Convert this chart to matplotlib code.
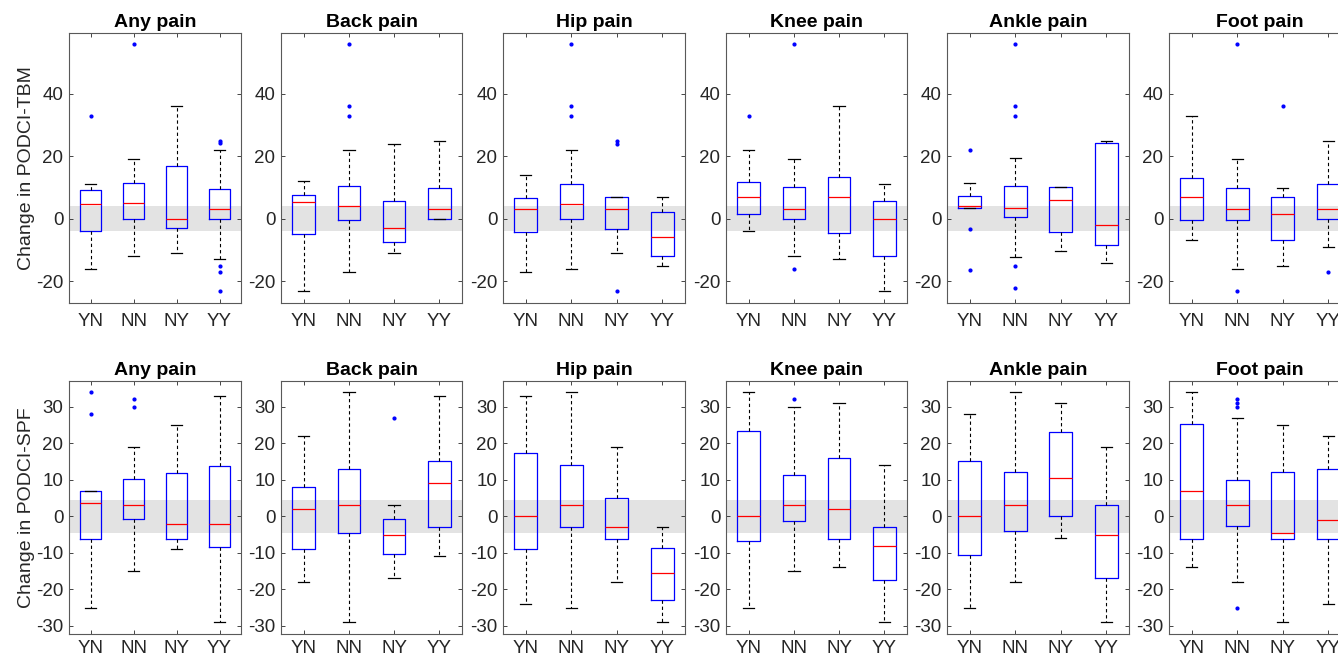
import numpy as np
import matplotlib.pyplot as plt

plt.rcParams['font.family'] = ['Liberation Sans', 'DejaVu Sans']
plt.rcParams['axes.unicode_minus'] = False

groups = ['YN', 'NN', 'NY', 'YY']
pains = ['Any pain', 'Back pain', 'Hip pain', 'Knee pain', 'Ankle pain', 'Foot pain']

# PODCI-TBM (top row), one row of 4 groups per pain site
tbm_low = [[-16, -12, -11, -13], [-23, -17, -11, 0], [-17, -16, -11, -15],
           [-4, -12, -13, -23], [3.3, -12.3, -10.3, -14.3], [-6.8, -16, -15, -9]]
tbm_q1 = [[-3.9, 0, -3, 0], [-5, -0.4, -7.4, 0], [-4.2, 0, -3.4, -11.9],
          [1.6, 0, -4.6, -11.9], [3.3, 0.4, -4.4, -8.3], [-0.4, -0.4, -6.8, 0]]
tbm_med = [[4.6, 5.1, 0, 3.1], [5.5, 4, -2.9, 3.1], [3.1, 4.6, 3.1, -5.9],
           [7.1, 3.1, 7.1, 0], [4.2, 3.4, 5.9, -2], [7, 3.1, 1.6, 3.1]]
tbm_q3 = [[9.1, 11.6, 16.8, 9.4], [7.6, 10.5, 5.8, 10], [6.5, 11, 7, 2],
          [11.7, 10.2, 13.5, 5.6], [7.4, 10.4, 10.3, 24.3], [13.2, 10, 7, 11]]
tbm_high = [[11, 19, 36, 22], [12, 22, 24, 25], [14, 22, 7, 7],
            [22, 19, 36, 11], [11.3, 19.3, 10.3, 25], [33, 19, 10, 25]]
tbm_out = [[[33], [56], [], [25, 24.3, -15, -17, -23]],
           [[], [56, 36, 33], [], []],
           [[], [56, 36, 33], [25, 24, -23], []],
           [[33], [56, -16], [], []],
           [[22, -3.4, -16.4], [56, 36, 33, -15.3, -22.2], [], []],
           [[], [56, -23], [36], [-17]]]

# PODCI-SPF (bottom row)
spf_low = [[-25, -15, -9, -29], [-18, -29, -17, -11], [-24, -25, -18, -29],
           [-25, -15, -14, -29], [-25, -18, -6, -29], [-14, -18, -29, -24]]
spf_q1 = [[-6.1, -0.8, -6.1, -8.3], [-9, -4.5, -10.2, -3], [-9, -3, -6.1, -23],
          [-6.7, -1.3, -6.1, -17.5], [-10.6, -4, 0, -17], [-6.3, -2.6, -6.1, -6.1]]
spf_med = [[3.5, 3, -2, -2], [2, 3, -5, 9], [0, 3, -3, -15.5],
           [0, 3, 2, -8], [0, 3, 10.5, -5], [7, 3, -4.6, -1]]
spf_q3 = [[7, 10.2, 11.7, 13.8], [8, 13, -0.8, 15], [17.2, 14, 5, -8.6],
          [23.2, 11.4, 16, -3], [15.2, 12, 23, 3], [25.2, 10, 12, 13]]
spf_high = [[7, 19, 25, 33], [22, 34, 3, 33], [33, 34, 19, -3],
            [34, 30, 31, 14], [28, 34, 31, 19], [34, 27, 25, 22]]
spf_out = [[[34, 28], [32, 30], [], []],
           [[], [], [27], []],
           [[], [], [], []],
           [[], [32], [], []],
           [[], [], [], []],
           [[], [32, 31, 30, -25], [], []]]

rows = [
    ('Change in PODCI-TBM', tbm_low, tbm_q1, tbm_med, tbm_q3, tbm_high, tbm_out,
     (-27, 59.5), [-20, 0, 20, 40], 4.0, 7),
    ('Change in PODCI-SPF', spf_low, spf_q1, spf_med, spf_q3, spf_high, spf_out,
     (-32.2, 37), [-30, -20, -10, 0, 10, 20, 30], 4.5, 4.5),
]

W, H = 1338, 658
fig = plt.figure(figsize=(W / 100, H / 100), dpi=100)

lefts = [69, 281, 503, 726, 947, 1169]
rights = [241, 462, 685, 907, 1129, 1351]
row_box = [(33, 303), (381, 634)]

gray = (0.15, 0.15, 0.15)
for r, (ylab, lo, q1, med, q3, hi, out, ylim, yticks, band, xpad) in enumerate(rows):
    top, bot = row_box[r]
    for c, pain in enumerate(pains):
        ax = fig.add_axes([lefts[c] / W, 1 - bot / H,
                           (rights[c] - lefts[c]) / W, (bot - top) / H])
        stats = []
        for g in range(4):
            stats.append(dict(whislo=lo[c][g], q1=q1[c][g], med=med[c][g],
                              q3=q3[c][g], whishi=hi[c][g], fliers=out[c][g]))
        ax.axhspan(-band, band, color='#e3e3e3', lw=0, zorder=0)
        ax.bxp(stats, positions=[1, 2, 3, 4], widths=0.5, showfliers=True,
               boxprops=dict(color='blue', lw=0.9),
               medianprops=dict(color='red', lw=0.9),
               whiskerprops=dict(color='black', lw=0.8, ls=(0, (3, 2.5))),
               capprops=dict(color='black', lw=0.9),
               capwidths=0.25,
               flierprops=dict(marker='.', markerfacecolor='blue',
                               markeredgecolor='blue', markersize=4, ls='none'))
        ax.set_xlim(0.5, 4.5)
        ax.set_ylim(*ylim)
        ax.set_yticks(yticks)
        ax.set_xticks([1, 2, 3, 4])
        ax.set_xticklabels(groups)
        ax.tick_params(direction='in', top=True, right=True, length=3,
                       labelsize=13.5, colors=gray, pad=4, width=0.6)
        ax.tick_params(axis='x', pad=xpad)
        for sp in ax.spines.values():
            sp.set_color((0.35, 0.35, 0.35))
            sp.set_linewidth(0.8)
        ax.set_title(pain, fontsize=14, fontweight='bold', pad=4)
        if c == 0:
            ax.set_ylabel(ylab, fontsize=14, color=gray, labelpad=1)

fig.savefig('out.png', dpi=100)
